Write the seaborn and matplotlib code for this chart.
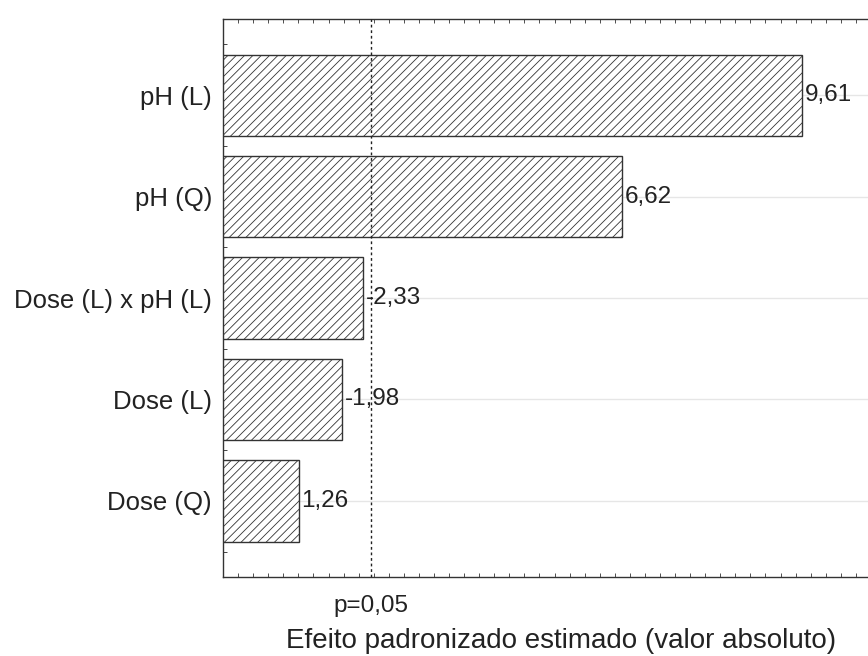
import numpy as np
import pandas as pd
import matplotlib
matplotlib.use('Agg')
import matplotlib.pyplot as plt
import seaborn as sns
from matplotlib.ticker import MultipleLocator

# Dados do gráfico de Pareto
fatores = ['pH (L)', 'pH (Q)', 'Dose (L) x pH (L)', 'Dose (L)', 'Dose (Q)']
efeitos = [9.61, 6.62, -2.33, -1.98, 1.26]
rotulos = ['9,61', '6,62', '-2,33', '-1,98', '1,26']
p_limite = 2.45
p_rotulo = 'p=0,05'

df = pd.DataFrame({'fator': fatores, 'efeito': np.abs(efeitos)})

sns.set_style('white')
plt.rcParams['font.family'] = ['Liberation Sans', 'DejaVu Sans']
plt.rcParams['hatch.linewidth'] = 0.6
plt.rcParams['hatch.color'] = '#5a5a5a'

fig = plt.figure(figsize=(8.68, 6.56), dpi=100)
# o eixo continua além da borda direita (figura recortada no original)
ax = fig.add_axes([0.257, 0.1204, 0.779, 0.8506])

sns.barplot(data=df, x='efeito', y='fator', orient='h', color='white',
            edgecolor='#333333', linewidth=1.0, width=0.8, ax=ax, zorder=3)
for p in ax.patches:
    p.set_hatch('////')

# grade horizontal leve
for i in range(len(fatores)):
    ax.axhline(i, color='#e6e6e6', lw=1.0, zorder=1)

ax.axvline(p_limite, color='#222222', lw=1.0, ls=(0, (2, 2)), zorder=4)

for i, (v, r) in enumerate(zip(np.abs(efeitos), rotulos)):
    ax.text(v + 0.04, i, r, va='center', ha='left', fontsize=17.5, color='#222222')

ax.set_xlim(0, 11.22)
ax.set_ylim(4.75, -0.75)
ax.set_xticks([p_limite])
ax.set_xticklabels([p_rotulo], fontsize=17.5, color='#222222')
ax.xaxis.set_minor_locator(MultipleLocator(0.25))
ax.tick_params(axis='x', which='major', length=0, pad=13)
ax.tick_params(axis='x', which='minor', direction='in', length=3, top=True, bottom=True, color='#333333')
ax.tick_params(axis='y', which='major', direction='in', length=3, labelsize=18.5, labelcolor='#222222', pad=8)
ax.yaxis.set_minor_locator(MultipleLocator(0.5))
ax.tick_params(axis='y', which='minor', direction='in', length=3, left=True)

ax.set_xlabel('Efeito padronizado estimado (valor absoluto)', fontsize=20, color='#222222', labelpad=8)
ax.set_ylabel('')

for s in ['left', 'top', 'bottom', 'right']:
    ax.spines[s].set_color('#333333')
    ax.spines[s].set_linewidth(1.0)

plt.savefig('out.png', dpi=100)
